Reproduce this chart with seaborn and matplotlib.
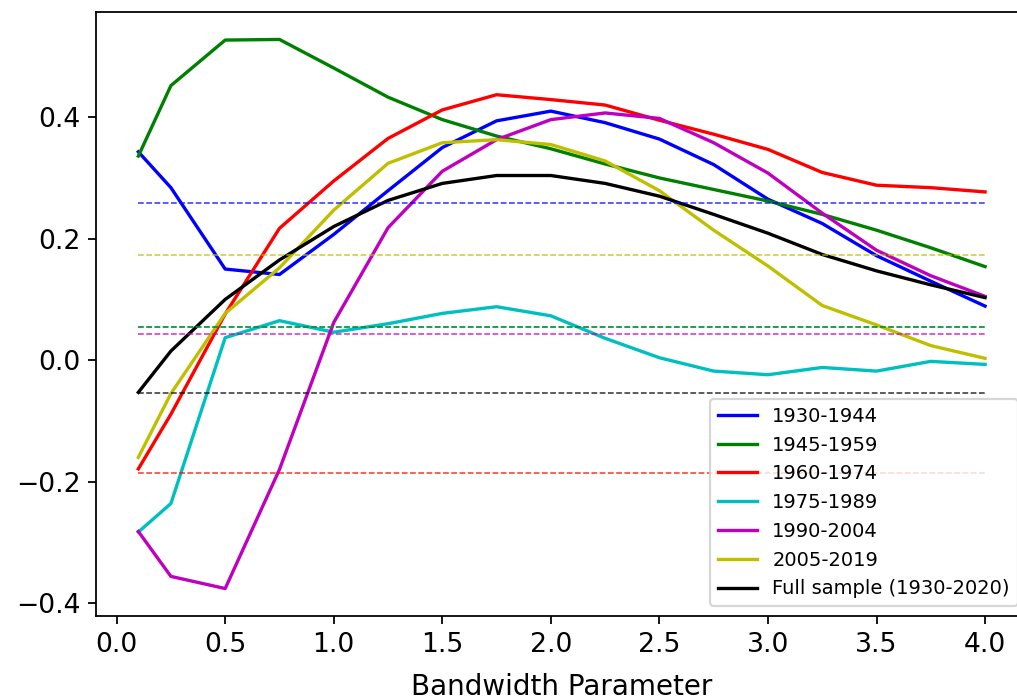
import matplotlib
matplotlib.use("Agg")
import matplotlib.pyplot as plt
import seaborn as sns
import numpy as np

bandwidth = [0.1, 0.25, 0.5, 0.75, 1.0, 1.25, 1.5, 1.75, 2.0, 2.25, 2.5, 2.75, 3.0, 3.25, 3.5, 3.75, 4.0]

labels = ["1930-1944", "1945-1959", "1960-1974", "1975-1989", "1990-2004", "2005-2019",
          "Full sample (1930-2020)"]
colors = ["b", "g", "r", "c", "m", "y", "k"]

s1930 = [0.343, 0.284, 0.150, 0.141, 0.207, 0.279, 0.350, 0.394, 0.410, 0.391, 0.364, 0.322, 0.265, 0.225, 0.172, 0.130, 0.089]
s1945 = [0.336, 0.452, 0.527, 0.528, 0.481, 0.433, 0.396, 0.369, 0.348, 0.323, 0.300, 0.281, 0.262, 0.240, 0.214, 0.185, 0.154]
s1960 = [-0.179, -0.089, 0.076, 0.217, 0.295, 0.365, 0.412, 0.437, 0.429, 0.420, 0.395, 0.372, 0.347, 0.309, 0.288, 0.284, 0.277]
s1975 = [-0.283, -0.236, 0.037, 0.065, 0.046, 0.060, 0.077, 0.088, 0.073, 0.036, 0.004, -0.018, -0.024, -0.012, -0.018, -0.002, -0.007]
s1990 = [-0.282, -0.356, -0.376, -0.180, 0.062, 0.218, 0.311, 0.363, 0.396, 0.407, 0.398, 0.358, 0.308, 0.242, 0.181, 0.139, 0.105]
s2005 = [-0.160, -0.055, 0.077, 0.152, 0.247, 0.324, 0.358, 0.363, 0.355, 0.328, 0.279, 0.214, 0.155, 0.090, 0.058, 0.024, 0.003]
sfull = [-0.053, 0.015, 0.100, 0.165, 0.220, 0.263, 0.291, 0.304, 0.304, 0.291, 0.270, 0.240, 0.209, 0.174, 0.147, 0.124, 0.103]

# horizontal reference levels (dashed)
ref_levels = [0.258, 0.055, -0.185, 0.054, 0.043, 0.173, -0.054]

series = [s1930, s1945, s1960, s1975, s1990, s2005, sfull]

fig = plt.figure(figsize=(1017 / 160, 698 / 160), dpi=160)
ax = fig.add_axes([96 / 1017, 82 / 698, (1027.4 - 96) / 1017, (616 - 12) / 698])

for vals, lab, col in zip(series, labels, colors):
    sns.lineplot(x=bandwidth, y=vals, color=col, label=lab, ax=ax, linewidth=1.5)

draw_order = [3, 0, 1, 2, 4, 5, 6]
for i in draw_order:
    ax.hlines(ref_levels[i], bandwidth[0], bandwidth[-1], colors=colors[i],
              linestyles="--", linewidth=0.7, alpha=0.8)

ax.spines["right"].set_visible(False)
ax.set_xticks([0.0, 0.5, 1.0, 1.5, 2.0, 2.5, 3.0, 3.5, 4.0])
ax.set_yticks([-0.4, -0.2, 0.0, 0.2, 0.4])
ax.tick_params(labelsize=12)
ax.set_xlabel("Bandwidth Parameter", fontsize=12.5, labelpad=7)
ax.legend(loc="lower right", fontsize=8.8)

fig.savefig("out.png", dpi=160)
